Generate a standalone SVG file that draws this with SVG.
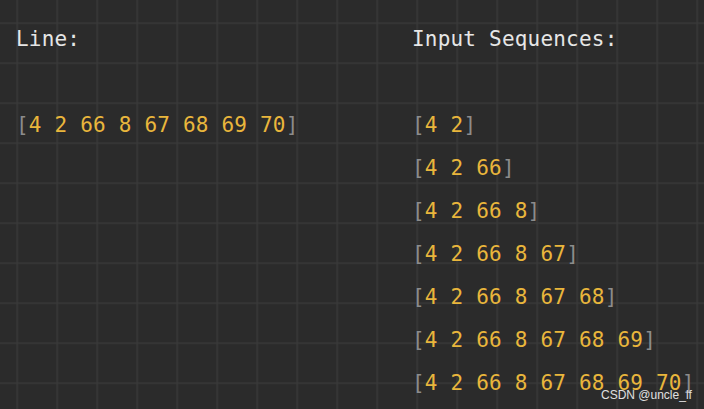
<svg xmlns="http://www.w3.org/2000/svg" width="704" height="409" viewBox="0 0 704 409">
<style>
.t{font-family:"DejaVu Sans Mono","Liberation Mono",monospace;font-size:21px;letter-spacing:0.2px}
.h{fill:#e6e6e6}
.n{fill:#e9b63c}
.b{fill:#8c8c8c;font-weight:300}
.wm{font-family:"Liberation Sans",Arial,sans-serif;font-size:12px;fill:#e0e0e0}
</style>
<defs>
<pattern id="grid" x="16.5" y="22.5" width="40" height="40" patternUnits="userSpaceOnUse">
<path d="M0.5 0V40M0 0.5H40" stroke="#3a3a3a" stroke-width="1.6" fill="none"/>
</pattern>
</defs>
<rect width="704" height="409" fill="#2b2b2b"/>
<rect width="704" height="409" fill="url(#grid)"/>
<g id="line-title"><text class="t h" x="16" y="46">Line:</text></g>
<g id="line-value"><text class="t" x="16" y="132"><tspan class="b">[</tspan><tspan class="n">4 2 66 8 67 68 69 70</tspan><tspan class="b">]</tspan></text></g>
<g id="seq-title"><text class="t h" x="412" y="46">Input Sequences:</text></g>
<g id="seq-1"><text class="t" x="412" y="132"><tspan class="b">[</tspan><tspan class="n">4 2</tspan><tspan class="b">]</tspan></text></g>
<g id="seq-2"><text class="t" x="412" y="175"><tspan class="b">[</tspan><tspan class="n">4 2 66</tspan><tspan class="b">]</tspan></text></g>
<g id="seq-3"><text class="t" x="412" y="218"><tspan class="b">[</tspan><tspan class="n">4 2 66 8</tspan><tspan class="b">]</tspan></text></g>
<g id="seq-4"><text class="t" x="412" y="261"><tspan class="b">[</tspan><tspan class="n">4 2 66 8 67</tspan><tspan class="b">]</tspan></text></g>
<g id="seq-5"><text class="t" x="412" y="304"><tspan class="b">[</tspan><tspan class="n">4 2 66 8 67 68</tspan><tspan class="b">]</tspan></text></g>
<g id="seq-6"><text class="t" x="412" y="347"><tspan class="b">[</tspan><tspan class="n">4 2 66 8 67 68 69</tspan><tspan class="b">]</tspan></text></g>
<g id="seq-7"><text class="t" x="412" y="390"><tspan class="b">[</tspan><tspan class="n">4 2 66 8 67 68 69 70</tspan><tspan class="b">]</tspan></text></g>
<g id="watermark"><text class="wm" x="601" y="399">CSDN @uncle_lf</text></g>
</svg>
